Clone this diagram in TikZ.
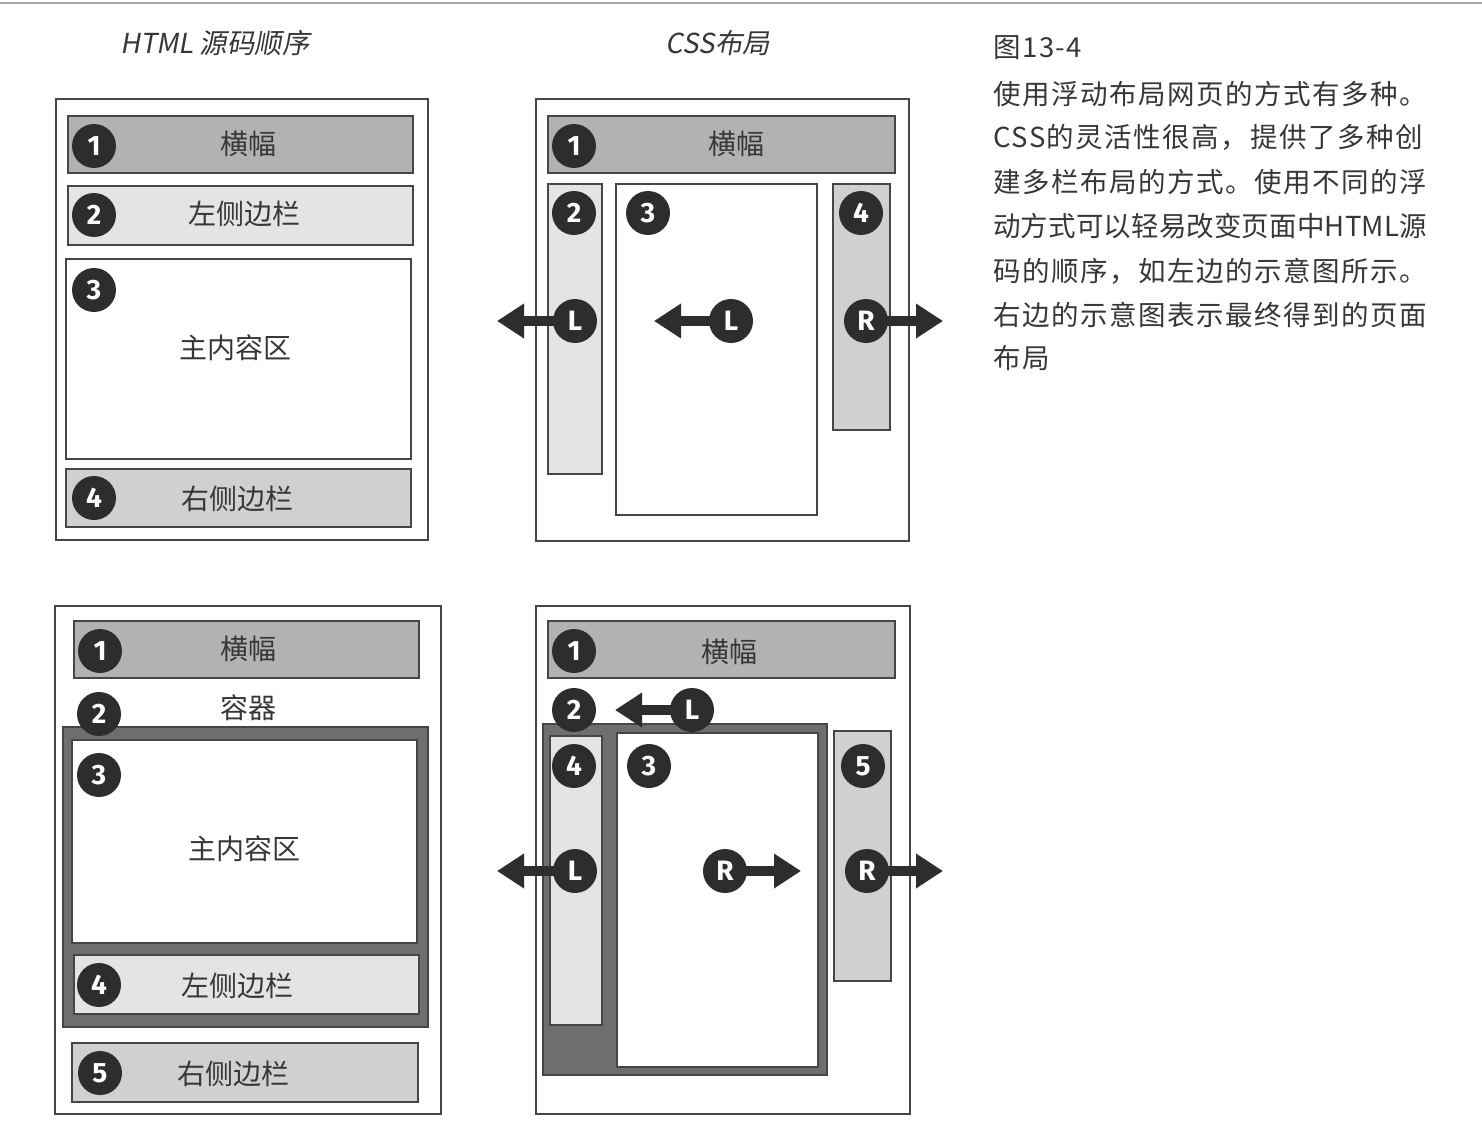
\documentclass[tikz,border=0pt]{standalone}
\usepackage{fontspec}
\setmainfont{Noto Sans CJK SC}
\newfontfamily\titlefont[FakeSlant=0.18]{Noto Sans CJK SC}
\newfontfamily\capfont[LetterSpace=5.5]{Noto Sans CJK SC}
\newfontfamily\capfonttight[LetterSpace=0.5]{Noto Sans CJK SC}
\newfontfamily\badgefont{Fira Sans}
\usetikzlibrary{arrows.meta}
\pgfdeclarelayer{front}
\pgfsetlayers{main,front}

\definecolor{ink}{RGB}{45,45,45}
\definecolor{edge}{RGB}{70,70,70}
\definecolor{banner}{RGB}{178,178,178}
\definecolor{lightbar}{RGB}{228,228,228}
\definecolor{midbar}{RGB}{208,208,208}
\definecolor{holder}{RGB}{110,110,110}
\definecolor{txt}{RGB}{55,55,55}

\tikzset{
  region/.style={draw=edge, line width=1.3pt, inner sep=0pt, outer sep=0pt},
  frame/.style={region, fill=white, line width=1.1pt},
  bannerbox/.style={region, fill=banner},
  leftbox/.style={region, fill=lightbar},
  rightbox/.style={region, fill=midbar},
  mainbox/.style={region, fill=white},
  holderbox/.style={region, fill=holder, line width=1.5pt},
  label/.style={inner sep=0pt, text=txt, font=\fontsize{28}{32}\selectfont},
  badge/.style={circle, fill=ink, text=white, minimum size=44pt, inner sep=0pt,
    font=\badgefont\bfseries\fontsize{28}{28}\selectfont},
  floatarrow/.style={draw=ink, line width=10pt,
    -{Triangle[length=27pt,width=33pt]}},
  heading/.style={font=\titlefont\fontsize{27.5}{30}\selectfont, text=txt},
  bodyline/.style={anchor=west, inner sep=0pt, text=txt,
    font=\capfont\fontsize{27.5}{30}\selectfont},
}

% box from corner (x1,y1) to corner (x2,y2)
\newcommand\layoutbox[6]{%
  \node[#2, anchor=north west, minimum width={#5-#3}, minimum height={#6-#4}]
    (#1) at (#3,#4) {};}

\begin{document}
\begin{tikzpicture}[x=1pt,y=-1pt]
\useasboundingbox (0,0) rectangle (1482,1134);
\fill[white] (0,0) rectangle (1482,1134);
\draw[gray!70, line width=1.5pt] (0,3) -- (1482,3);

% headings
\node[heading] (hsrc) at (215,43) {HTML 源码顺序};
\node[heading] (hcss) at (718,43) {CSS布局};

% ---------- three columns: source order ----------
\layoutbox{fa}{frame}{56}{99}{428}{540}
\layoutbox{fa1}{bannerbox}{68}{116}{413}{173}
\layoutbox{fa2}{leftbox}{68}{186}{413}{245}
\layoutbox{fa3}{mainbox}{66}{259}{411}{459}
\layoutbox{fa4}{rightbox}{66}{469}{411}{527}
\node[label] (fa1t) at (248,144) {横幅};
\node[label] (fa2t) at (244,214) {左侧边栏};
\node[label] (fa3t) at (235,348) {主内容区};
\node[label] (fa4t) at (237,499) {右侧边栏};
\begin{pgfonlayer}{front}
\node[badge] (fa1b) at (94,146) {1};
\node[badge] (fa2b) at (94,215) {2};
\node[badge] (fa3b) at (94,290) {3};
\node[badge] (fa4b) at (94,498) {4};
\end{pgfonlayer}

% ---------- three columns: rendered layout ----------
\layoutbox{fb}{frame}{536}{99}{909}{541}
\layoutbox{fb1}{bannerbox}{548}{116}{895}{173}
\layoutbox{fb2}{leftbox}{548}{184}{602}{474}
\layoutbox{fb3}{mainbox}{616}{184}{817}{515}
\layoutbox{fb4}{rightbox}{833}{184}{890}{430}
\node[label] (fb1t) at (736,144) {横幅};
\begin{pgfonlayer}{front}
\node[badge] (fb1b) at (574,146) {1};
\node[badge] (fb2b) at (574,213) {2};
\node[badge] (fb3b) at (648,213) {3};
\node[badge] (fb4b) at (861,213) {4};
\node[badge] (fbL1) at (575,321) {L};
\node[badge] (fbL2) at (731,321) {L};
\node[badge] (fbR) at (866,321) {R};
\end{pgfonlayer}
\coordinate (fbL1tip) at (497,321);
\coordinate (fbL2tip) at (654,321);
\coordinate (fbRtip) at (943,321);
\draw[floatarrow] (fbL1.center) -- (fbL1tip);
\draw[floatarrow] (fbL2.center) -- (fbL2tip);
\draw[floatarrow] (fbR.center) -- (fbRtip);

% ---------- wrapped columns: source order ----------
\layoutbox{fc}{frame}{55}{606}{441}{1114}
\layoutbox{fc1}{bannerbox}{74}{621}{419}{678}
\layoutbox{fc2}{holderbox}{63}{727}{428}{1027}
\layoutbox{fc3}{mainbox}{72}{740}{417}{943}
\layoutbox{fc4}{leftbox}{74}{955}{419}{1014}
\layoutbox{fc5}{rightbox}{72}{1043}{418}{1102}
\node[label] (fc1t) at (248,649) {横幅};
\node[label] (fc2t) at (248,708) {容器};
\node[label] (fc3t) at (244,849) {主内容区};
\node[label] (fc4t) at (237,986) {左侧边栏};
\node[label] (fc5t) at (233,1074) {右侧边栏};
\begin{pgfonlayer}{front}
\node[badge] (fc1b) at (100,651) {1};
\node[badge] (fc2b) at (99,714) {2};
\node[badge] (fc3b) at (99,775) {3};
\node[badge] (fc4b) at (99,985) {4};
\node[badge] (fc5b) at (100,1073) {5};
\end{pgfonlayer}

% ---------- wrapped columns: rendered layout ----------
\layoutbox{fd}{frame}{536}{606}{910}{1114}
\layoutbox{fd1}{bannerbox}{548}{621}{895}{678}
\layoutbox{fd2}{holderbox}{543}{724}{827}{1075}
\layoutbox{fd4}{leftbox}{550}{736}{602}{1025}
\layoutbox{fd3}{mainbox}{617}{733}{818}{1067}
\layoutbox{fd5}{rightbox}{834}{731}{891}{981}
\node[label] (fd1t) at (729,652) {横幅};
\begin{pgfonlayer}{front}
\node[badge] (fd1b) at (574,651) {1};
\node[badge] (fd2b) at (574,710) {2};
\node[badge] (fd4b) at (574,766) {4};
\node[badge] (fd3b) at (649,766) {3};
\node[badge] (fd5b) at (863,766) {5};
\node[badge] (fdL0) at (692,710) {L};
\node[badge] (fdL1) at (575,871) {L};
\node[badge] (fdR1) at (725,871) {R};
\node[badge] (fdR2) at (867,871) {R};
\end{pgfonlayer}
\coordinate (fdL0tip) at (615,710);
\coordinate (fdL1tip) at (497,871);
\coordinate (fdR1tip) at (801,871);
\coordinate (fdR2tip) at (943,871);
\draw[floatarrow] (fdL0.center) -- (fdL0tip);
\draw[floatarrow] (fdL1.center) -- (fdL1tip);
\draw[floatarrow] (fdR1.center) -- (fdR1tip);
\draw[floatarrow] (fdR2.center) -- (fdR2tip);

% ---------- caption ----------
\node[bodyline] (cap0) at (993,48) {图13-4};
\node[bodyline] (cap1) at (993,94) {使用浮动布局网页的方式有多种。};
\node[bodyline] (cap2) at (993,137) {CSS的灵活性很高，提供了多种创};
\node[bodyline] (cap3) at (993,182) {建多栏布局的方式。使用不同的浮};
\node[bodyline, font=\capfonttight\fontsize{27.5}{30}\selectfont] (cap4)
  at (993,226) {动方式可以轻易改变页面中HTML源};
\node[bodyline] (cap5) at (993,271) {码的顺序，如左边的示意图所示。};
\node[bodyline] (cap6) at (993,315) {右边的示意图表示最终得到的页面};
\node[bodyline] (cap7) at (993,358) {布局};
\end{tikzpicture}
\end{document}
